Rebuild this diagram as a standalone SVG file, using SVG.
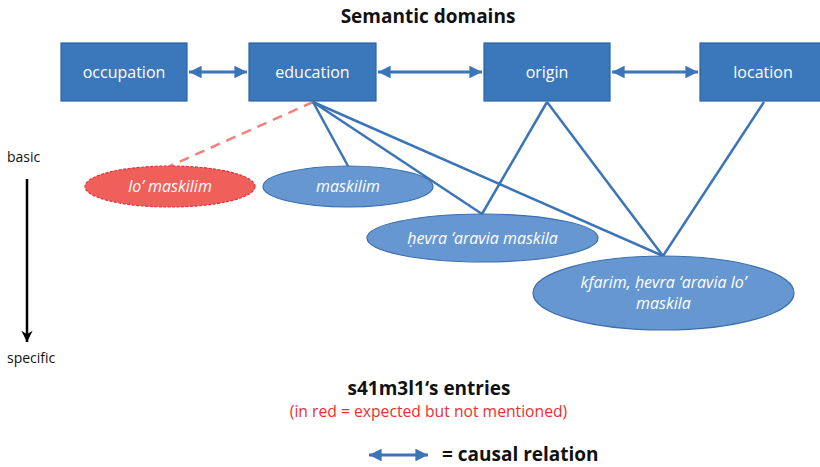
<svg xmlns="http://www.w3.org/2000/svg" width="820" height="467" viewBox="0 0 820 467">
  <defs>
    <marker id="head" viewBox="0 0 10 10" refX="10" refY="5" markerWidth="4.2" markerHeight="4.2" orient="auto-start-reverse" markerUnits="strokeWidth">
      <path d="M0,0 L10,5 L0,10 Z" fill="#3b74b7"/>
    </marker>
    <marker id="blackhead" viewBox="0 0 10 10" refX="10" refY="5" markerWidth="4.5" markerHeight="5" orient="auto" markerUnits="strokeWidth">
      <path d="M0,0 L10,5 L0,10 L3,5 Z" fill="#000"/>
    </marker>
  </defs>
  <style>
    text { font-family: "Open Sans", "Noto Sans", "Liberation Sans", sans-serif; }
    .box rect { fill: #3b77bb; stroke: #2d64a3; stroke-width: 1.2; }
    .box text { fill: #fff; font-size: 16px; text-anchor: middle; }
    .entry ellipse { fill: #6797d0; stroke: #3a6eae; stroke-width: 1.2; }
    .entry text { fill: #fff; font-size: 16px; font-style: italic; text-anchor: middle; }
    .missing ellipse { fill: #f0605a; stroke: #e0303a; stroke-width: 1.2; stroke-dasharray: 3 1.5; }
    .link { stroke: #3b74b7; stroke-width: 2.5; fill: none; }
    .causal { stroke: #3b74b7; stroke-width: 3; fill: none; marker-start: url(#head); marker-end: url(#head); }
    .dash { stroke: #f2807a; stroke-width: 2.5; stroke-dasharray: 10 7; fill: none; }
    .label { font-size: 14px; fill: #111; }
    .heading { font-size: 19px; font-weight: bold; fill: #111; text-anchor: middle; }
  </style>

  <text class="heading" x="428" y="23">Semantic domains</text>

  <!-- connectors -->
  <g id="connectors">
    <line class="causal" x1="189" y1="72" x2="247" y2="72"/>
    <line class="causal" x1="378" y1="72" x2="482" y2="72"/>
    <line class="causal" x1="612" y1="72" x2="698" y2="72"/>
    <line class="dash" x1="313" y1="102" x2="170" y2="166"/>
    <line class="link" x1="313" y1="102" x2="348" y2="166"/>
    <line class="link" x1="313" y1="102" x2="482" y2="214"/>
    <line class="link" x1="313" y1="102" x2="663" y2="256"/>
    <line class="link" x1="547" y1="102" x2="482" y2="214"/>
    <line class="link" x1="547" y1="102" x2="663" y2="256"/>
    <line class="link" x1="764" y1="102" x2="663" y2="256"/>
  </g>

  <!-- domain boxes -->
  <g id="occupation" class="box">
    <rect x="61" y="43" width="126" height="58"/>
    <text x="124" y="77.5">occupation</text>
  </g>
  <g id="education" class="box">
    <rect x="249" y="43" width="127" height="58"/>
    <text x="312.5" y="77.5">education</text>
  </g>
  <g id="origin" class="box">
    <rect x="484" y="43" width="126" height="58"/>
    <text x="547" y="77.5">origin</text>
  </g>
  <g id="location" class="box">
    <rect x="700" y="43" width="126" height="58"/>
    <text x="763" y="77.5">location</text>
  </g>

  <!-- entries -->
  <g id="lo-maskilim" class="entry missing">
    <ellipse cx="170" cy="186.5" rx="85" ry="20.5"/>
    <text x="170" y="192">lo’ maskilim</text>
  </g>
  <g id="maskilim" class="entry">
    <ellipse cx="348" cy="186.5" rx="85" ry="20.5"/>
    <text x="348" y="192">maskilim</text>
  </g>
  <g id="hevra-aravia-maskila" class="entry">
    <ellipse cx="482.5" cy="238" rx="115.5" ry="24"/>
    <text x="482.5" y="243.5">ḥevra ‘aravia maskila</text>
  </g>
  <g id="kfarim" class="entry">
    <ellipse cx="663.5" cy="293" rx="130.5" ry="37"/>
    <text x="663.5" y="288">kfarim, ḥevra ‘aravia lo’</text>
    <text x="663.5" y="309">maskila</text>
  </g>

  <!-- vertical scale -->
  <text class="label" x="7" y="162">basic</text>
  <line x1="27" y1="179" x2="27" y2="342" stroke="#000" stroke-width="2.5" marker-end="url(#blackhead)"/>
  <text class="label" x="7" y="363">specific</text>

  <!-- legend -->
  <text class="heading" x="429" y="395">s41m3l1‘s entries</text>
  <text x="428.5" y="417" font-size="15.7" fill="#e8302f" text-anchor="middle">(in red = expected but not mentioned)</text>
  <line class="causal" x1="369" y1="455" x2="428" y2="455"/>
  <text x="442" y="461" font-size="19" font-weight="bold" fill="#111">= causal relation</text>
</svg>
